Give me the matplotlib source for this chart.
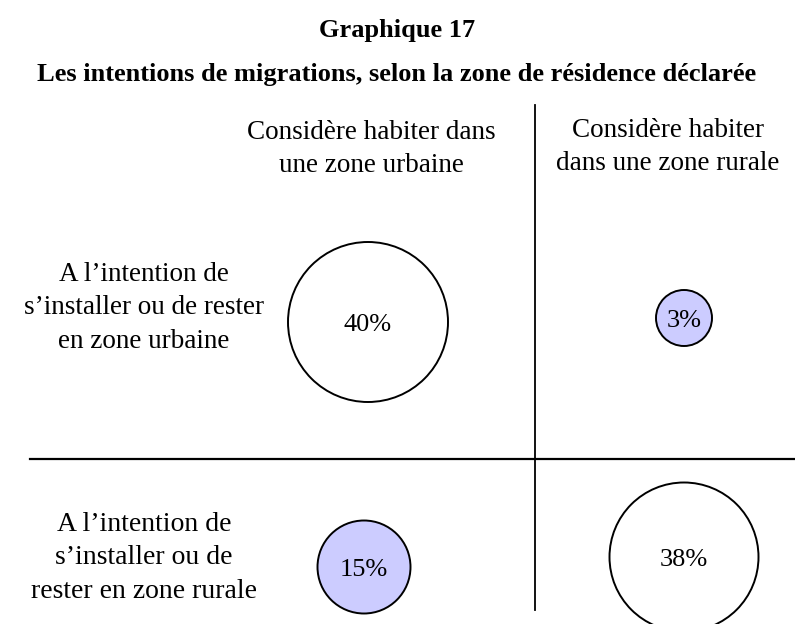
import matplotlib.pyplot as plt
from matplotlib.patches import Circle

plt.rcParams['font.family'] = ['Liberation Serif', 'DejaVu Serif']

# Data: share of respondents per (intention, declared zone)
col_labels = ["Considère habiter dans\nune zone urbaine",
              "Considère habiter\ndans une zone rurale"]
row_labels = ["A l\u2019intention de\ns\u2019installer ou de rester\nen zone urbaine",
              "A l\u2019intention de\ns\u2019installer ou de\nrester en zone rurale"]
values = [[40, 3],
          [15, 38]]
highlight = [[False, True],
             [True, False]]

# Layout in pixels (figure is 795 x 624)
W, H = 795, 624
col_x = [368, 684]
row_y = [322, 563]
offsets = [[(0, 0), (0, -4)],
           [(-4, 4), (0, -6)]]
diam = [[160, 56],
        [93, 149]]
fill = '#ccccff'

fig = plt.figure(figsize=(W / 100, H / 100), dpi=100)
ax = fig.add_axes([0, 0, 1, 1])
ax.set_xlim(0, W)
ax.set_ylim(H, 0)
ax.set_aspect('equal')
ax.axis('off')

ax.text(397, 31, "Graphique 17", ha='center', va='center',
        fontsize=19, fontweight='bold')
ax.text(397, 75, "Les intentions de migrations, selon la zone de résidence déclarée",
        ha='center', va='center', fontsize=19, fontweight='bold')

# quadrant lines
ax.plot([535, 535], [105, 610], color='black', lw=1.3)
ax.plot([30, W], [459, 459], color='black', lw=1.6)

ax.text(371, 149, col_labels[0], ha='center', va='center',
        fontsize=19.5, linespacing=1.46)
ax.text(668, 147, col_labels[1], ha='center', va='center',
        fontsize=19.5, linespacing=1.38)

for i, lab in enumerate(row_labels):
    ax.text(144, [308, 558][i], lab, ha='center', va='center',
            fontsize=[19.5, 20][i], linespacing=1.47)

for i in range(2):
    for j in range(2):
        dx, dy = offsets[i][j]
        cx, cy = col_x[j] + dx, row_y[i] + dy
        c = Circle((cx, cy), diam[i][j] / 2,
                   facecolor=fill if highlight[i][j] else 'white',
                   edgecolor='black', lw=1.4)
        ax.add_patch(c)
        ax.text(cx, cy + 3, f"{values[i][j]}%", ha='center', va='center',
                fontsize=19)

fig.savefig('out.png', dpi=100)
